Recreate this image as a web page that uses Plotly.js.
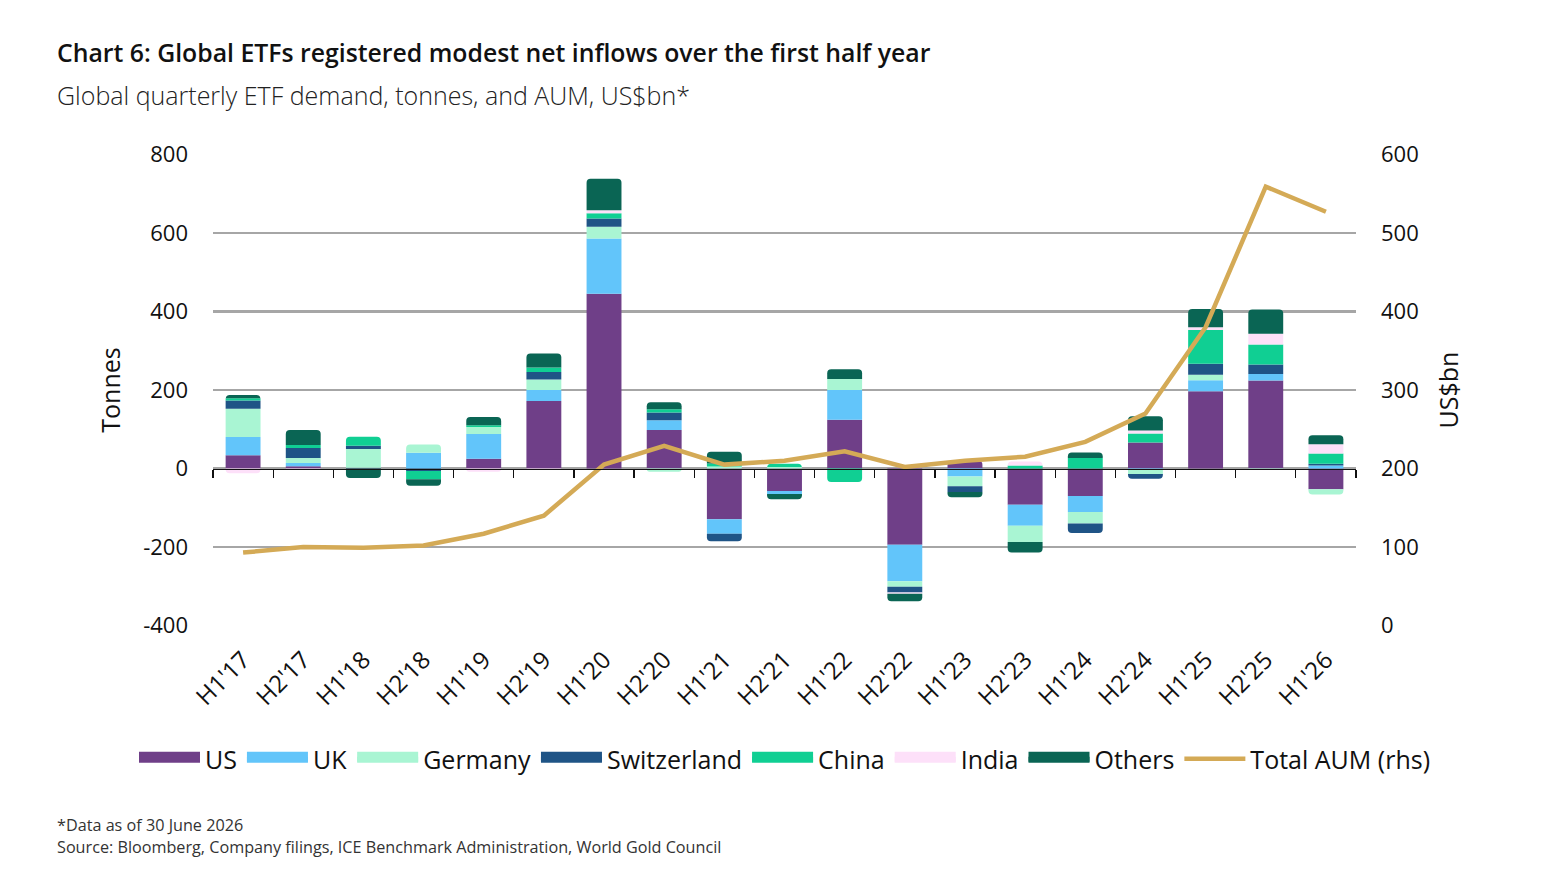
<!DOCTYPE html>
<html>
<head>
<meta charset="utf-8">
<script src="https://cdn.plot.ly/plotly-3.0.1.min.js"></script>
<style>
  html, body { margin: 0; padding: 0; background: #fff; }
  #chart { width: 1558px; height: 881px; }
</style>
</head>
<body>
<div id="chart"></div>
<script>
/* Chart 6 — global ETF demand (stacked bars, tonnes) + total AUM line (rhs). */

const periods = ["H1'17", "H2'17", "H1'18", "H2'18", "H1'19", "H2'19", "H1'20", "H2'20",
  "H1'21", "H2'21", "H1'22", "H2'22", "H1'23", "H2'23", "H1'24", "H2'24", "H1'25", "H2'25", "H1'26"];

const us          = [34, 6, 2, 0, 25, 172, 445, 98, -129, -57, 124, -194, 20, -92, -70, 66, 197, 224, -53];
const uk          = [46, 8, 0, 40, 63, 28, 141, 25, -37, -8, 76, -93, -20, -54, -41, -4, 28, 17, 8];
const germany     = [72, 13, 48, 21, 18, 27, 30, -8, 5, 4, 28, -14, -25, -41, -29, -10, 14, -4, -13];
const switzerland = [21, 25, 8, -6, 0, 19, 21, 20, -19, 0, 0, -15, -15, 0, -24, -12, 28, 24, 4];
const china       = [6, 8, 23, -21, 4, 11, 13, 8, 8, 8, -34, 0, 0, 8, 27, 23, 86, 51, 26];
const india       = [-12, -3, 0, 0, -8, -3, 8, 0, 0, 0, 0, -3, 0, 10, 0, 8, 7, 27, 24];
const others      = [8, 38, -24, -17, 21, 36, 80, 18, 30, -13, 25, -19, -13, -27, 14, 36, 46, 62, 23];

const totalAum    = [93, 100, 99, 102, 117, 140, 205, 229, 205, 210, 222, 202, 210, 215, 234, 270, 380, 559, 527];

const seriesNames  = ['US', 'UK', 'Germany', 'Switzerland', 'China', 'India', 'Others'];
const seriesValues = [us, uk, germany, switzerland, china, india, others];
const seriesColors = ['#6f3f88', '#62c5fa', '#a9f5d3', '#1f5486', '#10cf93', '#fde0f9', '#0a6554'];

const leftTicks  = [-400, -200, 0, 200, 400, 600, 800];
const leftLabels = ['-400', '-200', '0', '200', '400', '600', '800'];

const FONT = 'Open Sans, Noto Sans, sans-serif';

// plot area in pixels
const PLOT = { l: 213, r: 1356, t: 154, b: 626 };
const W = 1558, H = 881;
const ph = PLOT.b - PLOT.t;
const py = y => (PLOT.b - y) / ph;               // pixel row -> paper y
const px = x => (x - PLOT.l) / (PLOT.r - PLOT.l); // pixel col -> paper x

// ranges padded a hair so the edge gridlines (800 / -400) are still drawn
const yMin = -401, yMax = 801;
const y2Min = -0.5, y2Max = 600.5;

const traces = seriesNames.map((name, i) => ({
  type: 'bar', name: name, x: periods, y: seriesValues[i],
  marker: { color: seriesColors[i], line: { width: 0 } },
  legendgroup: name, showlegend: false,
}));

// legend swatches: filled line entries give the wide blocks of the original key
seriesNames.forEach((name, i) => traces.push({
  type: 'scatter', mode: 'lines', name: name, x: [null], y: [null],
  fill: 'toself', fillcolor: seriesColors[i],
  line: { color: seriesColors[i], width: 18 },
  legendgroup: name, hoverinfo: 'skip',
}));

traces.push({
  type: 'scatter', mode: 'lines', name: 'Total AUM (rhs)',
  x: periods, y: totalAum, xaxis: 'x2', yaxis: 'y2',
  line: { color: '#d4aa56', width: 4.5 },
});

const layout = {
  width: W, height: H,
  paper_bgcolor: '#fff', plot_bgcolor: '#fff',
  font: { family: FONT, size: 22, color: '#111' },
  margin: { l: PLOT.l, r: W - PLOT.r, t: PLOT.t, b: H - PLOT.b },
  barmode: 'relative',
  bargap: 0.42,
  barcornerradius: 4,
  showlegend: true,
  legend: {
    orientation: 'h', x: px(134), xanchor: 'left', y: py(759), yanchor: 'middle',
    font: { size: 25, color: '#111' }, traceorder: 'normal',
    itemwidth: 61, tracegroupgap: 0,
  },
  xaxis: {
    type: 'category', categoryorder: 'array', categoryarray: periods,
    range: [-0.5, periods.length - 0.5],
    showgrid: false, showline: false, zeroline: false, ticks: '',
    tickangle: -45, tickfont: { size: 24, color: '#111' },
    ticklabelstandoff: 14,
  },
  // second x axis only draws the black baseline with boundary ticks at y = 0
  xaxis2: {
    type: 'category', categoryorder: 'array', categoryarray: periods,
    range: [-0.5, periods.length - 0.5],
    overlaying: 'x', anchor: 'free', position: (0 - yMin) / (yMax - yMin),
    showline: true, linecolor: '#111', linewidth: 1.3,
    ticks: 'outside', tickson: 'boundaries', ticklen: 8, tickcolor: '#111', tickwidth: 1.3,
    showticklabels: false, showgrid: false, zeroline: false,
  },
  yaxis: {
    range: [yMin, yMax], tickmode: 'array', tickvals: leftTicks, ticktext: leftLabels,
    showgrid: true, gridcolor: '#a6a6a6', gridwidth: 2.6,
    zeroline: false, showline: false, ticks: '',
    ticklabelstandoff: 24,
    tickfont: { size: 22, color: '#111' },
    title: { text: 'Tonnes', font: { size: 25, color: '#111' }, standoff: 15 },
  },
  yaxis2: {
    overlaying: 'y', side: 'right', anchor: 'x',
    range: [y2Min, y2Max], dtick: 100, tick0: 0,
    showgrid: false, zeroline: false, showline: false, ticks: '',
    ticklabelstandoff: 24,
    tickfont: { size: 22, color: '#111' },
    title: { text: 'US$bn', font: { size: 25, color: '#111' }, standoff: 22 },
  },
  annotations: [
    { text: 'Chart 6: Global ETFs registered modest net inflows over the first half year',
      xref: 'paper', yref: 'paper', x: px(55), y: py(52), xanchor: 'left', yanchor: 'middle',
      showarrow: false, font: { size: 24.8, color: '#111', weight: 600 } },
    { text: 'Global quarterly ETF demand, tonnes, and AUM, US$bn*',
      xref: 'paper', yref: 'paper', x: px(55), y: py(95), xanchor: 'left', yanchor: 'middle',
      showarrow: false, font: { size: 25, color: '#222', weight: 300 } },
    { text: '*Data as of 30 June 2026',
      xref: 'paper', yref: 'paper', x: px(55), y: py(825), xanchor: 'left', yanchor: 'middle',
      showarrow: false, font: { size: 16.2, color: '#333' } },
    { text: 'Source: Bloomberg, Company filings, ICE Benchmark Administration, World Gold Council',
      xref: 'paper', yref: 'paper', x: px(55), y: py(847), xanchor: 'left', yanchor: 'middle',
      showarrow: false, font: { size: 16.2, color: '#333' } },
  ],
};

Plotly.newPlot('chart', traces, layout, { displayModeBar: false, staticPlot: true });
</script>
</body>
</html>
